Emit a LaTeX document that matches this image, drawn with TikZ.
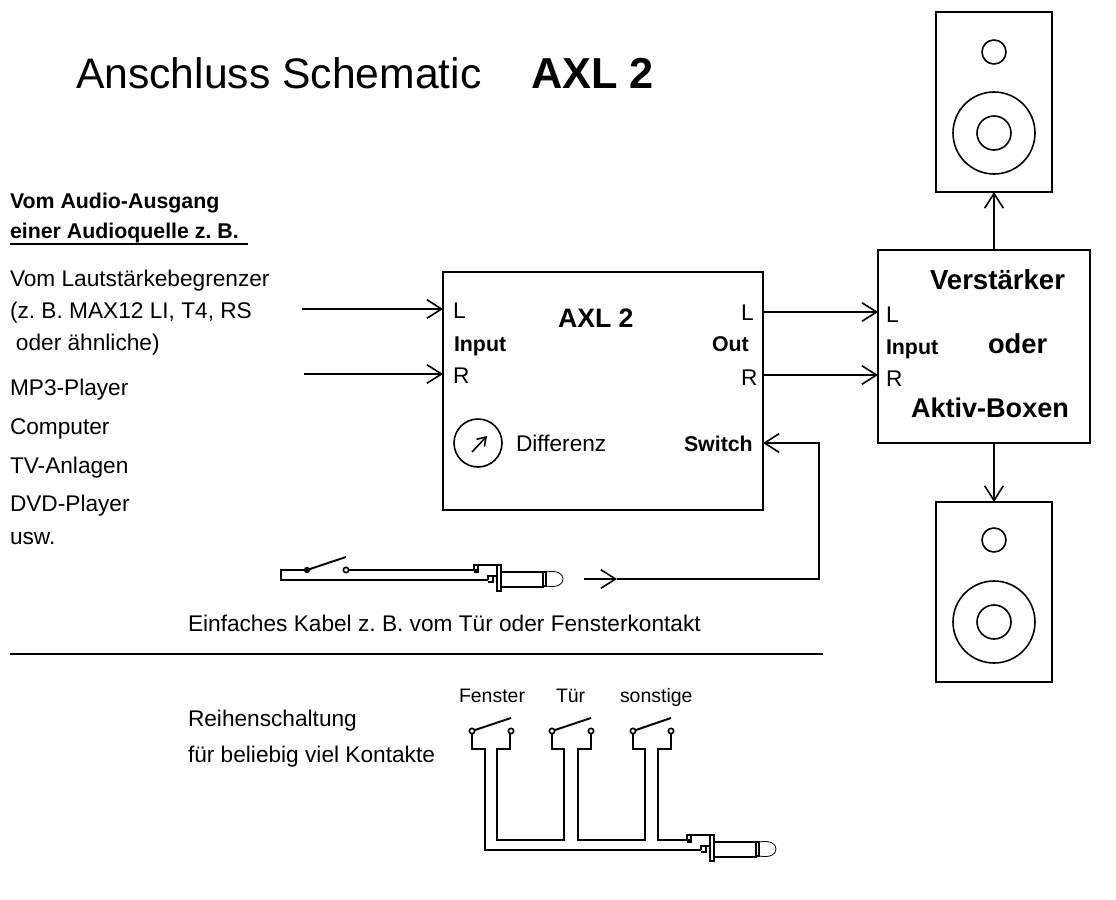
\documentclass[tikz,border=0pt]{standalone}
\usepackage{fontspec}
\setmainfont{Liberation Sans}
\usetikzlibrary{arrows.meta,calc}
\frenchspacing
\newcommand\plugsym[2]{%
  \begin{scope}[shift={(#1,#2)}]
    \draw[thin wire] (478,570) -- (474,570) -- (474,565) -- (501,565);
    \draw[thin wire] (478,565) -- (478,572) -- (474,572);
    \draw[thin wire] (488,580) -- (488,576) -- (497,576);
    \draw[thin wire] (488,582) -- (493,582) -- (493,576);
    \draw[thin wire] (497,565) rectangle (501,591);
    \draw[thin wire] (501,572) -- (543,572) -- (543,587) -- (501,587);
    \draw[thin wire] (543,572) rectangle (546,586);
    \draw[tip line] (546,572) .. controls (558,570) and (563,574) .. (563,579) .. controls (563,584) and (558,588) .. (546,586);
  \end{scope}}
\newcommand\contact[3]{%
  \draw[wire] (#1,#3) -- (#2,#3-13);
  \node[contact dot] (c#1) at (#1,#3) {};
  \node[contact dot] (d#1) at (#2,#3) {};}
\tikzset{
  x=.75pt, y=-.75pt,
  wire/.style={line width=1.5pt},
  thin wire/.style={line width=1.3pt},
  tip line/.style={line width=.6pt},
  box/.style={draw,line width=1.5pt,inner sep=0pt,outer sep=0pt},
  circ/.style={draw,circle,line width=1.2pt,inner sep=0pt,outer sep=0pt},
  contact dot/.style={draw,circle,line width=1.2pt,fill=white,inner sep=0pt,outer sep=0pt,minimum size=4pt},
  sig/.style={line width=1.4pt,-{Straight Barb[length=11pt,width=14pt,line width=1.2pt]}},
  lbl/.style={anchor=base west,inner sep=0pt,outer sep=0pt},
  txt/.style={lbl,font=\fontsize{17pt}{19pt}\selectfont},
  txtb/.style={lbl,font=\fontsize{16pt}{18pt}\selectfont\bfseries},
  small/.style={lbl,font=\fontsize{14.6pt}{16pt}\selectfont},
}
\begin{document}
\begin{tikzpicture}
\useasboundingbox (0,0) rectangle (1116,899);
% titles
\node[lbl,font=\fontsize{32pt}{36pt}\selectfont] (title) at (76,89) {Anschluss Schematic};
\node[lbl,font=\fontsize{32.5pt}{36pt}\selectfont\bfseries] (titleb) at (531,89) {AXL 2};
% sources
\node[txtb] (s1) at (10,208) {Vom Audio-Ausgang};
\node[txtb] (s2) at (10,238) {einer Audioquelle z. B.};
\coordinate (ulA) at (10,244); \coordinate (ulB) at (248,244);
\draw[line width=1.5pt] (ulA) -- (ulB);
\node[txt] (s3) at (10,286) {Vom Lautstärkebegrenzer};
\node[txt] (s4) at (10,318) {(z. B. MAX12 LI, T4, RS};
\node[txt] (s5) at (16,350) {oder ähnliche)};
\node[txt] (s6) at (10,395) {MP3-Player};
\node[txt] (s7) at (10,434) {Computer};
\node[txt] (s8) at (10,473) {TV-Anlagen};
\node[txt] (s9) at (10,511) {DVD-Player};
\node[txt] (s10) at (10,544) {usw.};
% main boxes
\node[box,minimum width=240pt,minimum height=178.5pt] (axl) at (603,391) {};
\node[box,minimum width=159pt,minimum height=144.75pt] (amp) at (984,346.5) {};
\node[box,minimum width=87pt,minimum height=135pt] (spkA) at (994,102) {};
\node[box,minimum width=87pt,minimum height=135pt] (spkB) at (994,592) {};
% speaker cones
\node[circ,minimum size=18pt] (a1) at (994,52) {};
\node[circ,minimum size=61.5pt] (a2) at (994,133) {};
\node[circ,minimum size=25.5pt] (a3) at (994,133) {};
\node[circ,minimum size=18pt] (b1) at (994,540) {};
\node[circ,minimum size=61.5pt] (b2) at (994,622) {};
\node[circ,minimum size=25.5pt] (b3) at (994,622) {};
% axl labels
\node[lbl,font=\fontsize{20pt}{22pt}\selectfont\bfseries] (axlt) at (558,327) {AXL 2};
\node[txt] (il) at (453,318) {L};
\node[txtb] (ii) at (454,351) {Input};
\node[txt] (ir) at (453,383) {R};
\node[txt] (ol) at (741,320) {L};
\node[txtb] (oo) at (712,351) {Out};
\node[txt] (or) at (741,385) {R};
\node[txtb] (sw) at (684,451) {Switch};
\node[txt] (df) at (516,451) {Differenz};
\node[circ,minimum size=36pt] (knob) at (478,443) {};
\draw[line width=1.2pt,-{Straight Barb[length=6pt,width=8pt,line width=1.2pt]}] ($(knob)+(-6,9)$) -- ($(knob)+(9,-7)$);
% amp labels
\node[lbl,font=\fontsize{20.7pt}{23pt}\selectfont\bfseries] (v1) at (930,289) {Verstärker};
\node[lbl,font=\fontsize{20.5pt}{23pt}\selectfont\bfseries] (v2) at (988,353) {oder};
\node[lbl,font=\fontsize{20.3pt}{23pt}\selectfont\bfseries] (v3) at (911,417) {Aktiv-Boxen};
\node[txt] (al) at (886,322) {L};
\node[txtb] (ai) at (886,354) {Input};
\node[txt] (ar) at (886,386) {R};
% signal arrows
\coordinate (inL) at (302,309); \coordinate (inR) at (304,374);
\draw[sig] (inL) -- (inL -| axl.west);
\draw[sig] (inR) -- (inR -| axl.west);
\coordinate (outL) at (763,312); \coordinate (outR) at (763,375);
\draw[sig] (outL) -- (outL -| amp.west);
\draw[sig] (outR) -- (outR -| amp.west);
\draw[sig] (spkA.south |- amp.north) -- (spkA.south);
\draw[sig] (spkB.north |- amp.south) -- (spkB.north);
\coordinate (swS) at (584,579); \coordinate (swM) at (617,579); \coordinate (swC) at (819,579); \coordinate (swT) at (819,443); \coordinate (swE) at (763,443);
\draw[sig] (swS) -- (swM);
\draw[line width=1.4pt] (swM) -- (swC) -- (swT) -- (swE);
\draw[sig] (swT) -- (swE);
% upper switch and plug
\coordinate (w1) at (281,570); \coordinate (w2) at (281,580); \coordinate (w3) at (488,580); \coordinate (w4) at (307,570); \coordinate (w5) at (346,570); \coordinate (w6) at (474,570); \coordinate (w7) at (346,557);
\draw[thin wire] (w4) -- (w1) -- (w2) -- (w3);
\draw[wire] (w4) -- (w7);
\fill (w4) circle[radius=2.4pt];
\draw[wire] (w5) -- (w6);
\node[contact dot] (w5d) at (w5) {};
\plugsym{0}{0}
% caption and rule
\node[txt] (cap) at (188,631) {Einfaches Kabel z. B. vom Tür oder Fensterkontakt};
\coordinate (ruleA) at (10,654); \coordinate (ruleB) at (823,654);
\draw[line width=1.5pt] (ruleA) -- (ruleB);
% series wiring
\node[txt] (r1) at (188,726) {Reihenschaltung};
\node[txt] (r2) at (188,762) {für beliebig viel Kontakte};
\node[small] (f1) at (459,702) {Fenster};
\node[small] (f2) at (556,702) {Tür};
\node[small] (f3) at (620,702) {sonstige};
\draw[thin wire] (472,731) -- (472,749) -- (485,749) -- (485,850) -- (701,850);
\draw[thin wire] (510,731) -- (510,749) -- (497,749) -- (497,840) -- (564,840) -- (564,749) -- (552,749) -- (552,731);
\draw[thin wire] (591,731) -- (591,749) -- (578,749) -- (578,840) -- (645,840) -- (645,749) -- (633,749) -- (633,731);
\draw[thin wire] (671,731) -- (671,749) -- (658,749) -- (658,840) -- (687,840);
\contact{472}{511}{731}
\contact{552}{591}{731}
\contact{633}{671}{731}
\plugsym{213}{270}
\end{tikzpicture}
\end{document}
